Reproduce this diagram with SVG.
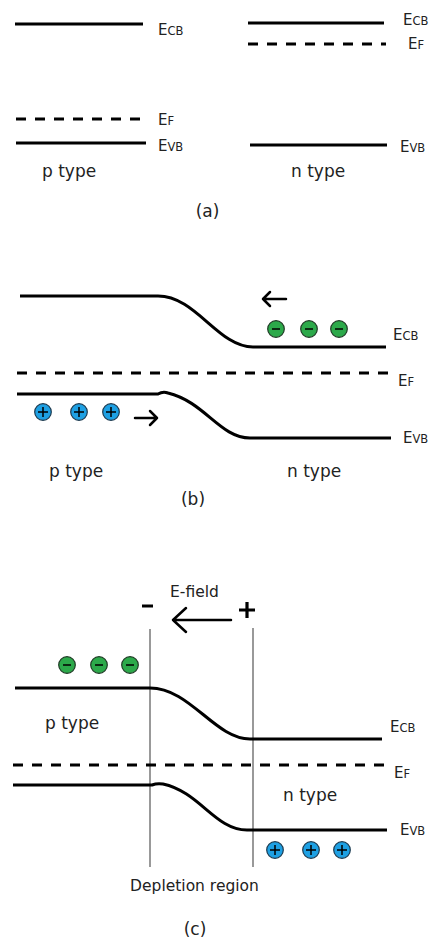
<svg xmlns="http://www.w3.org/2000/svg" width="432" height="946" viewBox="0 0 432 946">
  <style>
    .band { fill: none; stroke: #000; stroke-width: 3; }
    .fermi { fill: none; stroke: #000; stroke-width: 3; stroke-dasharray: 10 9; }
    .wall { stroke: #555; stroke-width: 1.2; }
    .arrow { fill: none; stroke: #000; stroke-width: 2.5; stroke-linecap: round; stroke-linejoin: round; }
    .lbl { font-family: "DejaVu Sans", Verdana, sans-serif; font-size: 15px; fill: #222; }
    .sub { font-size: 11.5px; }
    .txt { font-family: "DejaVu Sans", Verdana, sans-serif; font-size: 17px; fill: #222; }
    .small { font-family: "DejaVu Sans", Verdana, sans-serif; font-size: 15.5px; fill: #222; }
    .electron { fill: #2ca94a; stroke: #1f3a25; stroke-width: 1.2; }
    .hole { fill: #1ea0e3; stroke: #1c3a4f; stroke-width: 1.2; }
    .sign { stroke: #000; stroke-width: 1.5; }
  </style>
  <defs>
    <g id="e-">
      <circle class="electron" r="8.3"/>
      <line class="sign" x1="-4" y1="0" x2="4" y2="0"/>
    </g>
    <g id="h+">
      <circle class="hole" r="8.3"/>
      <line class="sign" x1="-5" y1="0" x2="5" y2="0"/>
      <line class="sign" x1="0" y1="-5" x2="0" y2="5"/>
    </g>
  </defs>

  <!-- (a) isolated p and n type -->
  <g id="panel-a">
    <g id="a-p">
      <line class="band" x1="15" y1="24" x2="143" y2="24"/>
      <line class="fermi" x1="16" y1="119" x2="148" y2="119"/>
      <line class="band" x1="16" y1="143" x2="146" y2="143"/>
      <text class="lbl" x="158" y="35">E<tspan class="sub">CB</tspan></text>
      <text class="lbl" x="158" y="125">E<tspan class="sub">F</tspan></text>
      <text class="lbl" x="158" y="151">E<tspan class="sub">VB</tspan></text>
      <text class="txt" x="42" y="177">p type</text>
    </g>
    <g id="a-n">
      <line class="band" x1="248" y1="23" x2="384" y2="23"/>
      <line class="fermi" x1="248" y1="44" x2="386" y2="44"/>
      <line class="band" x1="250" y1="145" x2="387" y2="145"/>
      <text class="lbl" x="403" y="25">E<tspan class="sub">CB</tspan></text>
      <text class="lbl" x="408" y="49">E<tspan class="sub">F</tspan></text>
      <text class="lbl" x="400" y="152">E<tspan class="sub">VB</tspan></text>
      <text class="txt" x="291" y="177">n type</text>
    </g>
    <text class="txt" x="207.5" y="217" text-anchor="middle">(a)</text>
  </g>

  <!-- (b) junction formed, carriers diffusing -->
  <g id="panel-b">
    <g id="b-bands">
      <path class="band" d="M20,296 H158 C196,296 218,347 253,347 H386"/>
      <line class="fermi" x1="17" y1="373" x2="388" y2="373"/>
      <path class="band" d="M17,394 H158 Q163,391 168,393 C205,402 220,438 250,438 H391"/>
    </g>
    <text class="lbl" x="393" y="340">E<tspan class="sub">CB</tspan></text>
    <text class="lbl" x="398" y="386">E<tspan class="sub">F</tspan></text>
    <text class="lbl" x="403" y="443">E<tspan class="sub">VB</tspan></text>
    <g id="b-electrons">
      <use href="#e-" x="276" y="329"/>
      <use href="#e-" x="309" y="329"/>
      <use href="#e-" x="339" y="329"/>
    </g>
    <g id="b-holes">
      <use href="#h+" x="43" y="412"/>
      <use href="#h+" x="79" y="412"/>
      <use href="#h+" x="111" y="412"/>
    </g>
    <g id="b-arrows">
      <path class="arrow" d="M286,299 H263 M270,292 L263,299 L270,306"/>
      <path class="arrow" d="M135,418 H157 M150,411 L157,418 L150,425"/>
    </g>
    <text class="txt" x="49" y="477">p type</text>
    <text class="txt" x="287" y="477">n type</text>
    <text class="txt" x="193" y="505" text-anchor="middle">(b)</text>
  </g>

  <!-- (c) equilibrium with depletion region -->
  <g id="panel-c">
    <g id="c-walls">
      <line class="wall" x1="150" y1="629" x2="150" y2="867"/>
      <line class="wall" x1="253" y1="628" x2="253" y2="867"/>
    </g>
    <g id="c-bands">
      <path class="band" d="M15,688 H150 C190,688 215,739 250,739 H382"/>
      <line class="fermi" x1="13" y1="765" x2="385" y2="765"/>
      <path class="band" d="M13,785 H152 Q157,783 163,784 C200,792 215,830 247,830 H387"/>
    </g>
    <text class="lbl" x="390" y="732">E<tspan class="sub">CB</tspan></text>
    <text class="lbl" x="394" y="778">E<tspan class="sub">F</tspan></text>
    <text class="lbl" x="400" y="835">E<tspan class="sub">VB</tspan></text>
    <g id="c-field">
      <text class="small" x="170" y="597">E-field</text>
      <line x1="142" y1="606" x2="153" y2="606" stroke="#000" stroke-width="3"/>
      <path d="M247,602 V618 M239,610 H255" stroke="#000" stroke-width="3.2" fill="none"/>
      <path class="arrow" d="M231,620 H173 M186,608 L173,620 L186,632"/>
    </g>
    <g id="c-electrons">
      <use href="#e-" x="67" y="665"/>
      <use href="#e-" x="99" y="665"/>
      <use href="#e-" x="130" y="665"/>
    </g>
    <g id="c-holes">
      <use href="#h+" x="275" y="850"/>
      <use href="#h+" x="311" y="850"/>
      <use href="#h+" x="342" y="850"/>
    </g>
    <text class="txt" x="45" y="729">p type</text>
    <text class="txt" x="283" y="801">n type</text>
    <text class="small" x="194.5" y="891" text-anchor="middle">Depletion region</text>
    <text class="txt" x="195" y="935" text-anchor="middle">(c)</text>
  </g>
</svg>
